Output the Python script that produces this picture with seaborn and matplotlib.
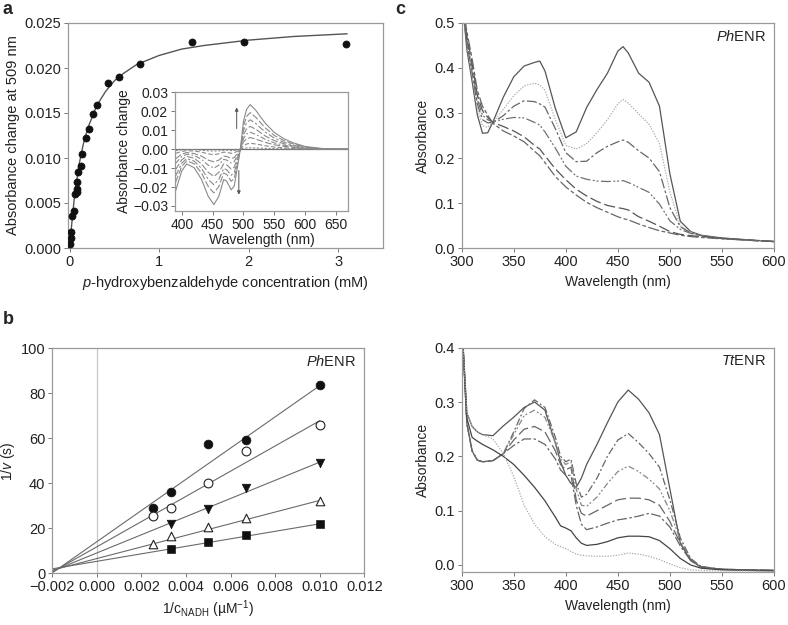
import numpy as np
import matplotlib
matplotlib.use("Agg")
import matplotlib.pyplot as plt
import seaborn as sns
from matplotlib.ticker import FuncFormatter, MultipleLocator

# ---- panel a: titration at 509 nm
a_conc = [0.004, 0.011, 0.015, 0.030, 0.048, 0.060, 0.086, 0.086, 0.086, 0.097, 0.123,
          0.142, 0.179, 0.216, 0.261, 0.309, 0.428, 0.547, 0.782, 1.367, 1.944, 3.091]
a_dA = [0.0004, 0.0011, 0.0018, 0.0036, 0.0041, 0.0060, 0.0062, 0.0066, 0.0073, 0.0084, 0.0091,
        0.0105, 0.0122, 0.0132, 0.0149, 0.0159, 0.0183, 0.0190, 0.0205, 0.0229, 0.0229, 0.0227]
a_fit_x = [0, 0.02, 0.05, 0.1, 0.15, 0.2, 0.3, 0.4, 0.5, 0.6, 0.75, 1.0, 1.25, 1.5, 2.0, 2.5, 3.1]
a_fit_y = [0, 0.0025, 0.0055, 0.0091, 0.0115, 0.0133, 0.0158, 0.0174, 0.0186, 0.0194, 0.0204,
           0.0214, 0.0221, 0.0225, 0.0231, 0.0235, 0.0238]

# inset difference spectra (values in 1e-3 absorbance units)
inset_wl = [390, 400, 408, 420, 432, 443, 452, 460, 468, 473, 480, 485, 490, 495, 500, 505,
            511, 520, 535, 550, 565, 580, 600, 625, 650, 670]
inset_traces = [
    [-22, -11.5, -7.8, -9.8, -16, -25, -29.3, -25, -16, -17, -21.5, -19.5, -10, 0, 14.7, 21, 23.5, 20.5, 13.8, 8.8, 5.6, 3.4, 1.4, 0.4, 0, 0],
    [-17.4, -9.1, -6.2, -7.7, -12.6, -19.8, -23.1, -19.8, -12.6, -13.4, -17, -15.4, -7.9, 0, 12.1, 17.2, 19.3, 16.8, 11.3, 7.2, 4.6, 2.8, 1.1, 0.3, 0, 0],
    [-14.1, -7.4, -5, -6.3, -10.2, -16, -18.8, -16, -10.2, -10.9, -13.8, -12.5, -6.4, 0, 9.7, 13.9, 15.5, 13.5, 9.1, 5.8, 3.7, 2.2, 0.9, 0.3, 0, 0],
    [-10.8, -5.6, -3.8, -4.8, -7.8, -12.3, -14.4, -12.3, -7.8, -8.3, -10.5, -9.6, -4.9, 0, 7.5, 10.7, 12, 10.5, 7, 4.5, 2.9, 1.7, 0.7, 0.2, 0, 0],
    [-7.5, -3.9, -2.7, -3.3, -5.4, -8.5, -10, -8.5, -5.4, -5.8, -7.3, -6.6, -3.4, 0, 5.6, 8, 8.9, 7.8, 5.2, 3.3, 2.1, 1.3, 0.5, 0.2, 0, 0],
    [-5.1, -2.6, -1.8, -2.3, -3.7, -5.8, -6.7, -5.8, -3.7, -3.9, -4.9, -4.5, -2.3, 0, 3.8, 5.5, 6.1, 5.3, 3.6, 2.3, 1.5, 0.9, 0.4, 0.1, 0, 0],
    [-2.2, -1.2, -0.8, -1, -1.6, -2.5, -2.9, -2.5, -1.6, -1.7, -2.2, -2, -1, 0, 1.9, 2.7, 3.1, 2.7, 1.8, 1.1, 0.7, 0.4, 0.2, 0.1, 0, 0],
    [-0.8, -0.4, -0.3, -0.3, -0.6, -0.9, -1, -0.9, -0.6, -0.6, -0.8, -0.7, -0.4, 0, 0.4, 0.6, 0.7, 0.6, 0.4, 0.3, 0.2, 0.1, 0, 0, 0, 0],
]

# ---- panel b: double reciprocal plot
b_x = [0.0025, 0.00333, 0.005, 0.00667, 0.010]
b_filled_circle = [29.2, 36.1, 57.6, 59.4, 83.7]
b_open_circle = [25.6, 29.2, 40.0, 54.4, 65.8]
b_x4 = [0.00333, 0.005, 0.00667, 0.010]
b_down_tri = [21.9, 28.4, 37.8, 48.9]
b_up_tri = [12.9, 16.4, 20.7, 24.4, 32.3]
b_square = [10.8, 13.9, 17.2, 21.9]
b_fit_x = [-0.002, 0.010]
b_fit_lines = [[0.2, 83.4], [0.6, 67.8], [1.0, 49.4], [1.4, 32.4], [2.0, 22.0]]

# ---- panel c: PhENR spectra
ph_wl = [300, 305, 310, 315, 320, 325, 330, 340, 350, 360, 370, 375, 380, 390, 400, 410,
         420, 430, 440, 450, 455, 460, 470, 480, 490, 500, 510, 520, 530, 550, 575, 600]
ph_1 = [.56, .44, .37, .296, .255, .256, .28, .335, .38, .404, .412, .415, .393, .31, .245, .258,
        .312, .352, .388, .437, .447, .433, .388, .368, .315, .165, .06, .037, .029, .023, .019, .015]
ph_2 = [.56, .45, .38, .31, .272, .268, .279, .308, .338, .36, .366, .362, .35, .285, .228, .22,
        .232, .256, .285, .32, .33, .322, .298, .275, .232, .125, .05, .035, .028, .022, .018, .015]
ph_3 = [.56, .455, .39, .32, .285, .278, .279, .294, .315, .327, .325, .32, .313, .265, .212, .192,
        .193, .212, .226, .236, .24, .235, .216, .2, .17, .09, .048, .034, .028, .022, .018, .015]
ph_4 = [.56, .46, .40, .33, .295, .285, .28, .286, .29, .289, .279, .273, .258, .222, .182, .16,
        .153, .149, .148, .149, .15, .146, .135, .124, .098, .061, .042, .033, .028, .022, .018, .015]
ph_5 = [.56, .47, .41, .34, .305, .29, .279, .27, .26, .247, .228, .22, .205, .176, .152, .131,
        .116, .104, .095, .09, .088, .085, .07, .06, .049, .037, .031, .028, .026, .022, .018, .015]
ph_6 = [.56, .48, .42, .35, .315, .295, .277, .26, .249, .236, .215, .205, .19, .159, .136, .118,
        .102, .09, .08, .07, .066, .063, .054, .046, .039, .034, .029, .026, .024, .021, .018, .015]

# ---- panel c: TtENR spectra
tt_wl = [300, 305, 310, 315, 320, 330, 340, 350, 360, 370, 380, 390, 395, 400, 405, 410, 415,
         420, 430, 440, 450, 460, 470, 480, 490, 500, 510, 520, 530, 550, 575, 600]
tt_a = [.45, .28, .255, .245, .24, .238, .256, .272, .29, .3, .285, .224, .19, .165, .15, .143, .16,
        .185, .222, .262, .3, .322, .305, .28, .24, .14, .04, .008, -.004, -.008, -.009, -.01]
tt_b1 = [.45, .26, .21, .193, .19, .192, .205, .245, .288, .304, .29, .235, .2, .19, .195, .15, .125,
         .13, .16, .2, .23, .242, .225, .205, .18, .12, .05, .012, -.003, -.008, -.009, -.01]
tt_b2 = [.45, .26, .21, .193, .19, .192, .205, .24, .275, .285, .272, .225, .195, .185, .19, .14, .11,
         .108, .125, .15, .172, .182, .172, .158, .14, .1, .045, .01, -.003, -.008, -.009, -.01]
tt_b3 = [.45, .26, .21, .193, .19, .192, .205, .23, .25, .255, .245, .21, .185, .175, .18, .12, .095,
         .09, .1, .11, .12, .123, .123, .12, .11, .08, .04, .01, -.003, -.008, -.009, -.01]
tt_b4 = [.45, .26, .21, .193, .19, .192, .205, .22, .232, .232, .222, .195, .175, .165, .165, .11, .075,
         .065, .07, .077, .083, .086, .09, .095, .09, .07, .035, .008, -.004, -.008, -.009, -.01]
tt_c = [.45, .27, .235, .228, .222, .212, .2, .185, .165, .143, .118, .088, .072, .068, .063, .05, .04,
        .036, .038, .043, .05, .053, .053, .052, .045, .03, .012, .0, -.006, -.009, -.01, -.011]
tt_d = [.45, .28, .255, .245, .24, .232, .205, .163, .11, .075, .052, .038, .034, .03, .025, .02, .018,
        .017, .016, .016, .018, .022, .02, .016, .01, .002, -.005, -.009, -.01, -.011, -.011, -.012]

# ---------------------------------------------------------------
sns.set_theme(style="ticks")
plt.rcParams['font.family'] = ['Liberation Sans', 'DejaVu Sans']
plt.rcParams['mathtext.fontset'] = 'custom'
plt.rcParams['mathtext.rm'] = 'Liberation Sans'
plt.rcParams['mathtext.it'] = 'Liberation Sans:italic'
plt.rcParams['axes.unicode_minus'] = True

TXT = '#222222'
SPINE = '#9a9a9a'


def fmt(dec):
    return FuncFormatter(lambda v, p: f"{v:.{dec}f}".replace('-', '\u2212'))


def style_ax(ax, size=10):
    for s in ax.spines.values():
        s.set_color(SPINE)
        s.set_linewidth(0.9)
    ax.tick_params(direction='out', length=3, width=0.7, color='#777777',
                   labelsize=size, labelcolor=TXT, pad=2)


fig = plt.figure(figsize=(7.88, 6.25), dpi=100)

# ---------------- panel a
ax_a = fig.add_axes([0.0863, 0.6032, 0.3997, 0.36])
sns.lineplot(x=a_fit_x, y=a_fit_y, ax=ax_a, color='#555555', linewidth=1.0, errorbar=None)
sns.scatterplot(x=a_conc, y=a_dA, ax=ax_a, color='#111111', edgecolor='#111111', s=26,
                marker='o', linewidth=0.5, zorder=3)
ax_a.set_xlim(-0.02, 3.5)
ax_a.set_ylim(0, 0.025)
ax_a.xaxis.set_major_locator(MultipleLocator(1))
ax_a.yaxis.set_major_locator(MultipleLocator(0.005))
ax_a.yaxis.set_major_formatter(fmt(3))
ax_a.set_xlabel(r'$\it{p}$-hydroxybenzaldehyde concentration (mM)', fontsize=10.5, color=TXT)
ax_a.set_ylabel('Absorbance change at 509 nm', fontsize=10.5, color=TXT, labelpad=3)
style_ax(ax_a, 10.5)

ax_in = fig.add_axes([0.2221, 0.6629, 0.2199, 0.1894])
inset_styles = ['-', (0, (6, 2)), (0, (6, 2, 2, 2)), (0, (6, 2)), (0, (5, 2, 1.5, 2)),
                (0, (6, 2)), (0, (4, 2)), (0, (2, 1.5))]
ax_in.axhline(0, color='#777777', linewidth=0.9)
for tr, ls in zip(inset_traces, inset_styles):
    sns.lineplot(x=inset_wl, y=np.array(tr) / 1000, ax=ax_in, color='#8a8a8a',
                 linewidth=0.8, linestyle=ls, errorbar=None)
ax_in.annotate('', xy=(489, 0.0235), xytext=(489, 0.0094),
               arrowprops=dict(arrowstyle='-|>', color='#555555', lw=0.7, mutation_scale=5))
ax_in.annotate('', xy=(492.5, -0.0255), xytext=(492.5, -0.0099),
               arrowprops=dict(arrowstyle='-|>', color='#555555', lw=0.7, mutation_scale=5))
ax_in.set_xlim(389, 670)
ax_in.set_ylim(-0.0325, 0.03)
ax_in.xaxis.set_major_locator(MultipleLocator(50))
ax_in.yaxis.set_major_locator(MultipleLocator(0.01))
ax_in.yaxis.set_major_formatter(fmt(2))
ax_in.set_xlabel('Wavelength (nm)', fontsize=10, color=TXT, labelpad=1)
ax_in.set_ylabel('Absorbance change', fontsize=10, color=TXT, labelpad=1)
style_ax(ax_in, 10)

# ---------------- panel b
ax_b = fig.add_axes([0.0664, 0.0827, 0.3959, 0.36])
ax_b.axvline(0, color='#c8c8c8', linewidth=0.9)
for ln in b_fit_lines:
    sns.lineplot(x=b_fit_x, y=ln, ax=ax_b, color='#6a6a6a', linewidth=0.8, errorbar=None)
sns.scatterplot(x=b_x, y=b_filled_circle, ax=ax_b, marker='o', s=40, color='#111111',
                edgecolor='#111111', zorder=3)
sns.scatterplot(x=b_x, y=b_open_circle, ax=ax_b, marker='o', s=40, color='white',
                edgecolor='#222222', linewidth=0.8, zorder=3)
sns.scatterplot(x=b_x4, y=b_down_tri, ax=ax_b, marker='v', s=38, color='#111111',
                edgecolor='#111111', zorder=3)
sns.scatterplot(x=b_x, y=b_up_tri, ax=ax_b, marker='^', s=38, color='white',
                edgecolor='#222222', linewidth=0.8, zorder=3)
sns.scatterplot(x=b_x4, y=b_square, ax=ax_b, marker='s', s=30, color='#111111',
                edgecolor='#111111', zorder=3)
ax_b.set_xlim(-0.002, 0.012)
ax_b.set_ylim(0, 100)
ax_b.xaxis.set_major_locator(MultipleLocator(0.002))
ax_b.yaxis.set_major_locator(MultipleLocator(20))
ax_b.xaxis.set_major_formatter(fmt(3))
ax_b.set_xlabel(r'1/c$_{\mathrm{NADH}}$ (µM$^{-1}$)', fontsize=10, color=TXT, labelpad=3)
ax_b.set_ylabel(r'1/$\it{v}$ (s)', fontsize=10, color=TXT, labelpad=3)
ax_b.text(0.975, 0.94, r'$\it{Ph}$ENR', transform=ax_b.transAxes, ha='right', va='center',
          fontsize=10.5, color=TXT)
style_ax(ax_b, 10.5)

# ---------------- panel c top (PhENR)
ax_c1 = fig.add_axes([0.5859, 0.6027, 0.3963, 0.361])
ph_series = [ph_1, ph_2, ph_3, ph_4, ph_5, ph_6]
ph_styles = ['-', (0, (1, 1.2)), (0, (8, 2, 2, 2)), (0, (8, 2, 1.5, 1.5, 1.5, 2)),
             (0, (9, 3)), (0, (9, 2, 3, 2))]
ph_colors = ['#555555', '#aaaaaa', '#666666', '#707070', '#555555', '#666666']
for ys, ls, c in zip(ph_series, ph_styles, ph_colors):
    sns.lineplot(x=ph_wl, y=ys, ax=ax_c1, color=c, linewidth=0.9, linestyle=ls, errorbar=None)
ax_c1.set_xlim(300, 600)
ax_c1.set_ylim(0, 0.5)
ax_c1.xaxis.set_major_locator(MultipleLocator(50))
ax_c1.yaxis.set_major_locator(MultipleLocator(0.1))
ax_c1.yaxis.set_major_formatter(fmt(1))
ax_c1.set_xlabel('Wavelength (nm)', fontsize=10, color=TXT)
ax_c1.set_ylabel('Absorbance', fontsize=10, color=TXT, labelpad=3)
ax_c1.text(0.975, 0.94, r'$\it{Ph}$ENR', transform=ax_c1.transAxes, ha='right', va='center',
           fontsize=10.5, color=TXT)
style_ax(ax_c1, 10.5)

# ---------------- panel c bottom (TtENR)
ax_c2 = fig.add_axes([0.5859, 0.0843, 0.3963, 0.3594])
tt_series = [tt_a, tt_b1, tt_b2, tt_b3, tt_b4, tt_c, tt_d]
tt_styles = ['-', (0, (6, 2, 1.5, 2)), (0, (5, 2, 1.5, 1.5, 1.5, 2)), (0, (9, 3)),
             (0, (8, 2, 2, 2)), '-', (0, (1, 1.2))]
tt_colors = ['#555555', '#666666', '#888888', '#666666', '#666666', '#444444', '#aaaaaa']
for ys, ls, c in zip(tt_series, tt_styles, tt_colors):
    sns.lineplot(x=tt_wl, y=ys, ax=ax_c2, color=c, linewidth=0.9, linestyle=ls, errorbar=None)
ax_c2.set_xlim(300, 600)
ax_c2.set_ylim(-0.0135, 0.4)
ax_c2.xaxis.set_major_locator(MultipleLocator(50))
ax_c2.yaxis.set_major_locator(MultipleLocator(0.1))
ax_c2.yaxis.set_major_formatter(fmt(1))
ax_c2.set_xlabel('Wavelength (nm)', fontsize=10, color=TXT)
ax_c2.set_ylabel('Absorbance', fontsize=10, color=TXT, labelpad=3)
ax_c2.text(0.975, 0.94, r'$\it{Tt}$ENR', transform=ax_c2.transAxes, ha='right', va='center',
           fontsize=10.5, color=TXT)
style_ax(ax_c2, 10.5)

# panel letters
fig.text(0.003, 0.998, 'a', fontsize=13, fontweight='bold', va='top', ha='left')
fig.text(0.003, 0.503, 'b', fontsize=13, fontweight='bold', va='top', ha='left')
fig.text(0.502, 0.998, 'c', fontsize=13, fontweight='bold', va='top', ha='left')

fig.savefig('out.png', dpi=100, facecolor='white')
